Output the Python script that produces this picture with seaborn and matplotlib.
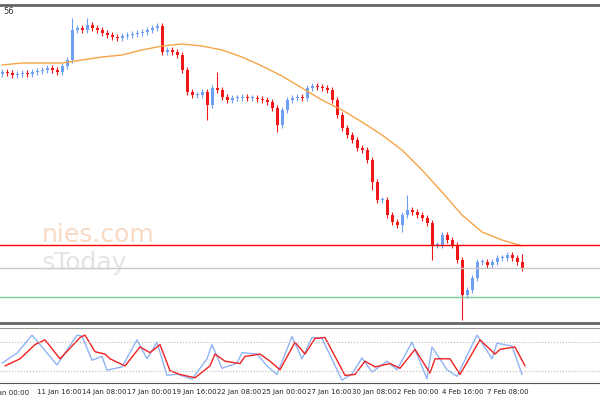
import numpy as np
import pandas as pd
import seaborn as sns
import matplotlib
matplotlib.use('Agg')
import matplotlib.pyplot as plt

# closing prices (relative units), one per 4H candle
closes = [258, 257, 255, 256, 257, 256, 258, 259, 260, 262,
          260, 258, 264, 270, 300, 302, 300, 305, 302, 300,
          297, 295, 293, 292, 294, 295, 296, 297, 298, 300,
          302, 304, 278, 280, 278, 275, 260, 238, 235, 235,
          238, 225, 242, 240, 233, 230, 232, 232, 233, 232,
          232, 231, 230, 228, 222, 205, 220, 230, 232, 233,
          232, 242, 244, 243, 242, 240, 230, 215, 202, 195,
          190, 182, 180, 170, 148, 130, 130, 115, 108, 105,
          115, 120, 118, 115, 112, 107, 85, 85, 95, 90,
          85, 70, 35, 40, 52, 68, 68, 65, 68, 72,
          72, 75, 72, 68, 62]
first_open = 256
long_lows = {92: 10, 41: 210, 55: 198, 74: 140, 80: 98, 86: 70}
long_highs = {14: 312, 17: 312, 43: 258, 81: 135, 104: 76}

# moving average, sampled every 4 candles
ma_idx = list(range(0, 105, 4))
ma_vals = [265, 267, 267, 267, 270, 273, 275, 280, 284, 286, 284, 280, 273, 264,
           254, 242, 230, 220, 208, 195, 180, 160, 138, 115, 98, 90, 84]

levels = {'red': 85, '#c8c8c8': 62, '#7fc99a': 33}

# stochastic
k_idx = [0, 3, 6, 8, 11, 15, 16, 18, 20, 21, 24, 27, 29, 31, 33, 35, 38, 41, 42, 44, 47, 48,
         51, 53, 55, 58, 60, 62, 64, 68, 70, 72, 74, 77, 79, 82, 85, 86, 89, 91, 95, 98, 99, 102, 104]
k_vals = [36, 57, 95, 70, 32, 95, 93, 42, 50, 21, 28, 85, 45, 80, 10, 13, 2, 45, 75, 25, 36, 58,
          55, 30, 12, 92, 45, 90, 88, 0, 13, 47, 17, 40, 22, 80, 3, 70, 22, 8, 95, 45, 78, 72, 12]
d_vals = [30, 45, 75, 85, 45, 90, 95, 60, 55, 45, 30, 70, 58, 75, 20, 12, 5, 30, 55, 40, 35, 50,
          55, 40, 22, 80, 55, 88, 90, 10, 12, 40, 28, 35, 25, 65, 15, 45, 45, 12, 85, 55, 65, 70, 30]

first_label = (-2.6, '9 Jan 00:00')
tick_pos = [7, 16, 25, 34, 43, 52, 61, 70, 79, 88, 97]
tick_labels = ['11 Jan 16:00', '14 Jan 08:00', '17 Jan 00:00', '19 Jan 16:00',
               '22 Jan 08:00', '25 Jan 00:00', '27 Jan 16:00', '30 Jan 08:00', '2 Feb 00:00',
               '4 Feb 16:00', '7 Feb 08:00']

sns.set_style('white')
df = pd.DataFrame({'close': closes})
df['open'] = [first_open] + closes[:-1]
df['high'] = df[['open', 'close']].max(axis=1) + 3
df['low'] = df[['open', 'close']].min(axis=1) - 3
for i, v in long_lows.items():
    df.loc[i, 'low'] = v
for i, v in long_highs.items():
    df.loc[i, 'high'] = v
df['bull'] = df['close'] >= df['open']
idx = np.arange(len(df))

fig = plt.figure(figsize=(6, 4), dpi=100)
ax = fig.add_axes([0, 0.1925, 1, 0.795])
ax2 = fig.add_axes([0, 0.0425, 1, 0.1375])
xlim = (-0.4, 119.6)

colors = np.where(df['bull'], '#6f9ff2', '#f01818')
ax.vlines(idx, df['low'], df['high'], colors=colors, linewidth=0.8)
body = (df['close'] - df['open']).abs().clip(lower=0.8)
ax.bar(idx, body, bottom=df[['open', 'close']].min(axis=1), width=0.6, color=colors, linewidth=0)
ax.plot(ma_idx, ma_vals, color='#f5a547', linewidth=1)
for c, v in levels.items():
    ax.axhline(v, color=c, linewidth=1)
ax.text(8, 88, 'nies.com', fontsize=18, color='#f7c9a8', alpha=0.7)
ax.text(8, 60, 'sToday', fontsize=18, color='#d8d8d8', alpha=0.7)
ax.text(0.3, 318, '56', fontsize=6, color='#333333', va='center')
ax.set_xlim(*xlim)
ax.set_ylim(7, 325)
ax.set_xticks([])
ax.set_yticks([])
for s in ax.spines.values():
    s.set_visible(False)
for side in ('top', 'bottom'):
    ax.spines[side].set_visible(True)
    ax.spines[side].set_color('#666666')
    ax.spines[side].set_linewidth(2)

ax2.plot(k_idx, k_vals, color='#8fb4f5', linewidth=1)
ax2.plot(np.array(k_idx) + 0.6, d_vals, color='#f02020', linewidth=1)
for v in (80, 20):
    ax2.axhline(v, color='#bbbbbb', linestyle=':', linewidth=0.8)
ax2.set_yticks([])
ax2.set_xticks(tick_pos)
ax2.set_xticklabels(tick_labels, fontsize=5, ha='left', color='#222222')
ax2.tick_params(axis='x', length=3, pad=1, width=0.6)
ax2.set_xlim(*xlim)
ax2.set_ylim(-6, 110)
ax2.text(first_label[0], -0.13, first_label[1], fontsize=5, color='#222222',
         transform=ax2.get_xaxis_transform(), va='top', clip_on=False)
for s in ax2.spines.values():
    s.set_visible(False)
ax2.spines['top'].set_visible(True)
ax2.spines['top'].set_color('#999999')
ax2.spines['bottom'].set_visible(True)
ax2.spines['bottom'].set_color('#555555')

fig.savefig('out.png', dpi=100)
